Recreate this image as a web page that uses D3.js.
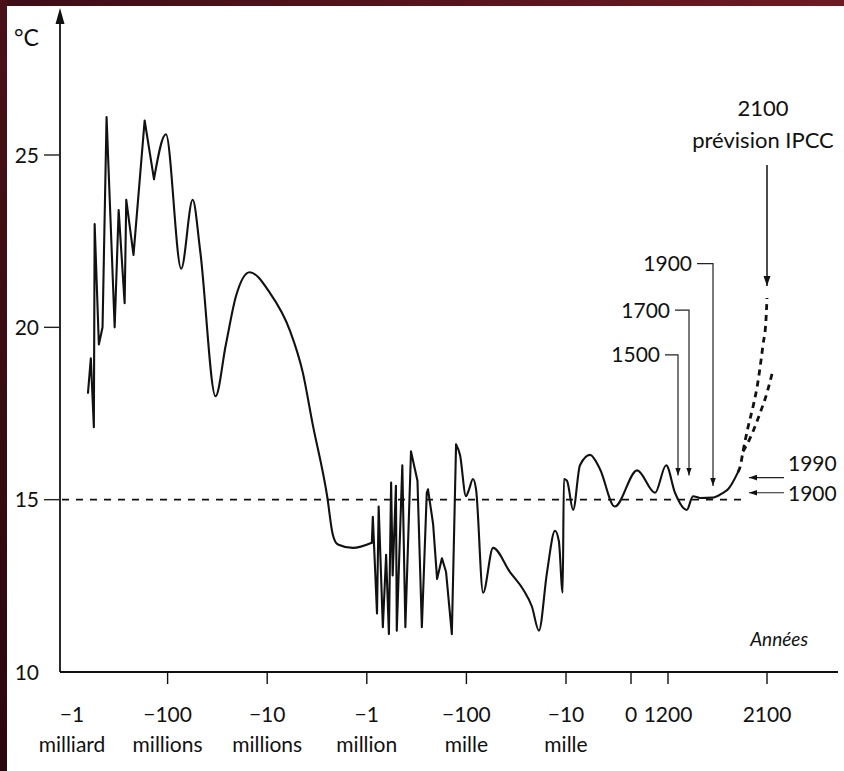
<!DOCTYPE html>
<html><head><meta charset="utf-8">
<script src="https://cdn.jsdelivr.net/npm/d3@7"></script>
<style>body{margin:0;background:#fff}svg{display:block}</style>
</head><body>
<svg id="c" width="844" height="771"></svg>
<script>
// ---------- data ----------
// Palaeo part: years before present (log axis) and temperature °C
const ancientYearsAgo = [6.3e8,5.9e8,5.5e8,5.4e8,4.9e8,4.5e8,4.1e8,3.4e8,3.1e8,2.7e8,2.6e8,2.2e8,1.7e8,1.37e8,1.04e8,7.3e7,5.6e7,4.7e7,3.3e7,2.6e7,2.06e7,1.5e7,9.4e6,5.9e6,4.4e6,3.5e6,2.5e6,2.2e6,1.95e6,1.38e6,8.9e5,8.7e5,7.9e5,7.6e5,6.9e5,6.4e5,6.0e5,5.7e5,5.5e5,5.1e5,5.0e5,4.4e5,4.1e5,3.6e5,3.1e5,2.8e5,2.5e5,2.43e5,2.16e5,1.97e5,1.76e5,1.6e5,1.4e5,1.27e5,1.16e5,1.01e5,9.4e4,8.6e4,8.0e4,6.8e4,5.4e4,3.65e4,2.7e4,2.2e4,1.87e4,1.55e4,1.29e4,1.18e4,1.08e4,1.05e4];
const ancientTemp = [18.1,19.1,17.1,23.0,19.5,20.0,26.1,20.0,23.4,20.7,23.7,22.1,26.0,24.3,25.6,21.7,23.7,22.2,18.0,19.5,20.9,21.6,21.0,19.9,18.7,17.2,15.1,14.0,13.7,13.6,13.75,14.5,11.7,14.8,11.3,13.4,11.1,15.5,12.8,15.4,11.2,16.0,11.3,16.4,15.55,11.3,15.2,15.3,14.3,12.7,13.3,12.9,11.1,16.6,16.3,15.1,15.3,15.6,15.3,12.3,13.6,12.9,12.4,11.9,11.2,12.9,14.1,13.8,12.3,15.6];
// Recent part: calendar years
const recentYear = [-9850,-8900,-7850,-6300,-4800,-2500,200,780,1140,1410,1660,1733,1792,1900,1936,1954,1990];
const recentTemp = [15.55,14.7,16.0,16.3,15.9,14.8,15.85,15.2,16.0,15.2,14.7,15.1,15.05,15.06,15.2,15.3,15.8];
// IPCC projections
const ipccHighYear = [1990,1998,2009,2028,2047,2062,2073,2085,2096,2100];
const ipccHighTemp = [15.8,15.95,16.4,17.1,17.7,18.25,18.8,19.5,20.2,20.85];
const ipccLowYear = [2009,2024,2047,2073,2100,2119];
const ipccLowTemp = [16.4,16.6,16.98,17.5,18.1,18.65];
// axis ticks
const xTickValues = [-1e9,-1e8,-1e7,-1e6,-1e5,-1e4,0,1200,2100];
const xTickLine1 = ["\u22121","\u2212100","\u221210","\u22121","\u2212100","\u221210","0","1200","2100"];
const xTickLine2 = ["milliard","millions","millions","million","mille","mille","","",""];
const yTickValues = [10,15,20,25];
const referenceTemp = 15;
// annotations
const markerYears = [1500,1700,1900];
const markerLabels = ["1500","1700","1900"];
const markerLabelTemp = [19.2,20.5,21.85];
const markerTipTemp = [15.7,15.7,15.4];
const sideYears = ["1990","1900"];
const sideTemp = [15.64,15.2];

// ---------- scales ----------
const svg = d3.select("#c");
const W = 844, H = 771;
const xLog = d3.scaleLog().domain([1e9,1e4]).range([68,566]);
const xLin = d3.scaleLinear().domain([-1e4,0,1200,1500,1700,1900,1990,2100]).range([566,631,668,678,689,713,738,767]);
const X = v => v < -1e4 ? xLog(-v) : xLin(v);
const y = d3.scaleLinear().domain([10,25]).range([672,155]);

// ---------- background frame ----------
const defs = svg.append("defs");
const g1 = defs.append("linearGradient").attr("id","top").attr("x1","0").attr("x2","1");
g1.append("stop").attr("offset","0").attr("stop-color","#3e0d17");
g1.append("stop").attr("offset","1").attr("stop-color","#6e1a22");
const g2 = defs.append("linearGradient").attr("id","left").attr("x1","0").attr("y1","0").attr("x2","0").attr("y2","1");
g2.append("stop").attr("offset","0").attr("stop-color","#4a1019");
g2.append("stop").attr("offset","1").attr("stop-color","#2a070d");
svg.append("rect").attr("width",W).attr("height",H).attr("fill","#fff");
svg.append("rect").attr("width",W).attr("height",6).attr("fill","url(#top)");
svg.append("rect").attr("width",7).attr("height",H).attr("fill","url(#left)");

["arr","arrS"].forEach((id,i)=>{
  const s = i===0 ? 1 : 0.8;
  defs.append("marker").attr("id",id).attr("viewBox","0 0 10 10").attr("refX",10).attr("refY",5)
    .attr("markerWidth",10*s).attr("markerHeight",10*s).attr("markerUnits","userSpaceOnUse").attr("orient","auto")
    .append("path").attr("d","M0,1.5 L10,5 L0,8.5 Z").attr("fill","#111");
});

const font = "Lato, 'Open Sans', sans-serif";

// ---------- axes ----------
const x0 = 60;
svg.append("line").attr("x1",x0).attr("x2",x0).attr("y1",y(10)).attr("y2",14).attr("stroke","#111").attr("stroke-width",1.8);
svg.append("path").attr("d",`M${x0},8 L${x0-4.5},24 L${x0+4.5},24 Z`).attr("fill","#111");
svg.append("line").attr("x1",x0).attr("x2",838).attr("y1",y(10)).attr("y2",y(10)).attr("stroke","#111").attr("stroke-width",2);

yTickValues.forEach(v=>{
  if (v !== 10) svg.append("line").attr("x1",x0-16).attr("x2",x0).attr("y1",y(v)).attr("y2",y(v)).attr("stroke","#222").attr("stroke-width",1.4);
  svg.append("text").attr("x",39).attr("y",y(v)).attr("dy","0.36em").attr("text-anchor","end")
    .attr("font-family",font).attr("font-size",21).attr("fill","#111").text(v);
});
svg.append("text").attr("x",14).attr("y",46).attr("font-family",font).attr("font-size",23).attr("fill","#111").text("°C");

xTickValues.forEach((v,i)=>{
  const xx = X(v);
  if (i>0) svg.append("line").attr("x1",xx).attr("x2",xx).attr("y1",y(10)).attr("y2",y(10)+12).attr("stroke","#111").attr("stroke-width",1.4);
  svg.append("text").attr("x",xx + (i===0?4:0)).attr("y",722).attr("text-anchor","middle")
    .attr("font-family",font).attr("font-size",21).attr("fill","#111").text(xTickLine1[i]);
  if (xTickLine2[i]) svg.append("text").attr("x",xx + (i===0?4:0)).attr("y",752).attr("text-anchor","middle")
    .attr("font-family",font).attr("font-size",21).attr("fill","#111").text(xTickLine2[i]);
});
svg.append("text").attr("x",808).attr("y",646).attr("text-anchor","end").attr("font-family",font)
  .attr("font-style","italic").attr("font-size",19).attr("fill","#111").text("Années");

// ---------- reference line ----------
svg.append("line").attr("x1",X(-1e9)-6).attr("x2",X(2010)).attr("y1",y(referenceTemp)).attr("y2",y(referenceTemp))
  .attr("stroke","#111").attr("stroke-width",1.8).attr("stroke-dasharray","7,7");

// ---------- curves ----------
const mainData = ancientYearsAgo.map((a,i)=>[-a, ancientTemp[i]])
  .concat(recentYear.map((r,i)=>[r, recentTemp[i]]));
// jagged stretches are drawn straight, the rest smoothed
const segments = [[0,13,d3.curveLinear],[13,30,d3.curveMonotoneX],[30,53,d3.curveLinear],[53,mainData.length-1,d3.curveMonotoneX]];
segments.forEach(([a,b,c])=>{
  const ln = d3.line().x(d=>X(d[0])).y(d=>y(d[1])).curve(c);
  svg.append("path").attr("d",ln(mainData.slice(a,b+1))).attr("fill","none").attr("stroke","#111")
    .attr("stroke-width",2.1).attr("stroke-linejoin","round").attr("stroke-linecap","round");
});

const line = d3.line().x(d=>X(d[0])).y(d=>y(d[1])).curve(d3.curveMonotoneX);
const hi = ipccHighYear.map((v,i)=>[v, ipccHighTemp[i]]);
const lo = ipccLowYear.map((v,i)=>[v, ipccLowTemp[i]]);
[hi,lo].forEach(d=>{
  svg.append("path").attr("d",line(d)).attr("fill","none").attr("stroke","#111")
    .attr("stroke-width",2.8).attr("stroke-dasharray","6,5");
});

// ---------- annotations ----------
const gap = [18,19,21];
markerYears.forEach((yr,i)=>{
  const xx = X(yr), ly = y(markerLabelTemp[i]);
  const hx = xx - gap[i] + 5;
  svg.append("path").attr("d",`M${hx},${ly} L${xx},${ly} L${xx},${y(markerTipTemp[i])}`)
    .attr("fill","none").attr("stroke","#222").attr("stroke-width",1.2).attr("marker-end","url(#arrS)");
  svg.append("text").attr("x",xx-gap[i]).attr("y",ly).attr("dy","0.36em").attr("text-anchor","end")
    .attr("font-family",font).attr("font-size",21).attr("fill","#111").text(markerLabels[i]);
});

const sideDy = [-14, 1];
sideYears.forEach((lab,i)=>{
  const yy = y(sideTemp[i]);
  svg.append("line").attr("x1",784).attr("x2",X(1990)+11).attr("y1",yy).attr("y2",yy)
    .attr("stroke","#222").attr("stroke-width",1.2).attr("marker-end","url(#arrS)");
  svg.append("text").attr("x",788).attr("y",yy + sideDy[i]).attr("dy","0.36em")
    .attr("font-family",font).attr("font-size",21).attr("fill","#111").text(lab);
});

const xi = X(2100);
svg.append("line").attr("x1",xi).attr("x2",xi).attr("y1",165).attr("y2",y(21.2))
  .attr("stroke","#111").attr("stroke-width",1.5).attr("marker-end","url(#arr)");
svg.append("text").attr("x",xi-4).attr("y",116).attr("text-anchor","middle").attr("font-family",font)
  .attr("font-size",22).attr("fill","#111").text("2100");
svg.append("text").attr("x",xi-4).attr("y",148).attr("text-anchor","middle").attr("font-family",font)
  .attr("font-size",22).attr("fill","#111").text("prévision IPCC");
</script>
</body></html>
